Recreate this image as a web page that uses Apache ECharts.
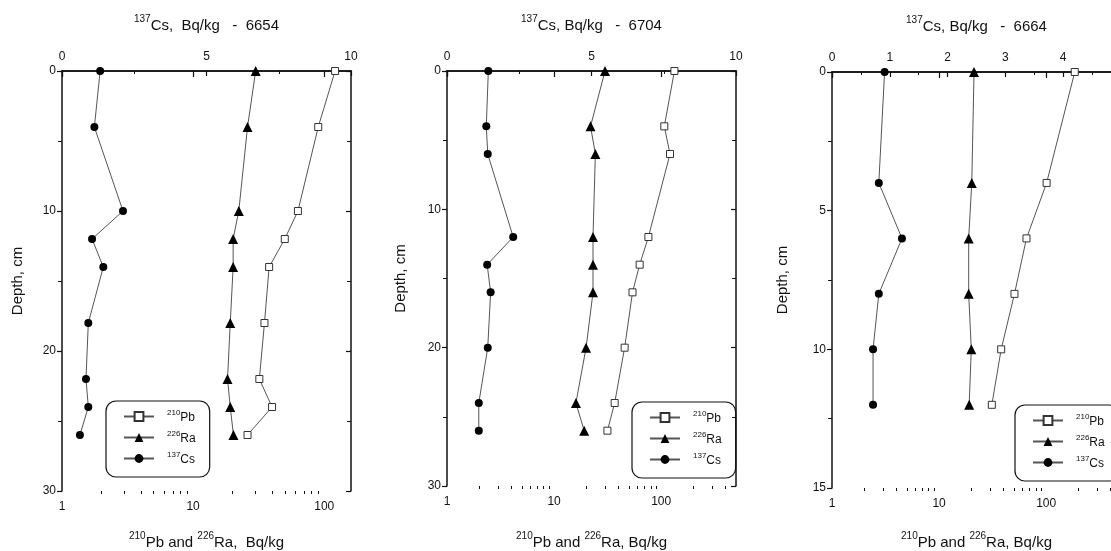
<!DOCTYPE html>
<html>
<head>
<meta charset="utf-8">
<script src="https://cdn.jsdelivr.net/npm/echarts@6/dist/echarts.min.js"></script>
<style>
  html, body { margin: 0; padding: 0; background: #fff; }
  #chart { width: 1111px; height: 551px; }
</style>
</head>
<body>
<div id="chart"></div>
<script>
// core 6654
const depth1 = [0, 4, 10, 12, 14, 18, 22, 24, 26];
const pb1 = [121, 90, 63, 50, 38, 35, 32, 40, 26];
const ra1 = [30, 26, 22.3, 20.2, 20.2, 19.2, 18.3, 19.2, 20.3];
const cs1 = [1.32, 1.12, 2.11, 1.04, 1.43, 0.91, 0.83, 0.91, 0.62];

// core 6704
const depth2 = [0, 4, 6, 12, 14, 16, 20, 24, 26];
const pb2 = [133, 107, 121, 76, 63, 54, 45.6, 36.8, 31.5];
const ra2 = [29.9, 21.9, 24.3, 23.1, 23.1, 23.1, 19.9, 16.0, 19.1];
const cs2 = [1.43, 1.36, 1.41, 2.29, 1.39, 1.51, 1.41, 1.10, 1.10];

// core 6664
const depth3 = [0, 4, 6, 8, 10, 12];
const pb3 = [185, 101, 65.5, 50.6, 38, 31.1];
const ra3 = [21.2, 20.2, 18.9, 18.9, 20.0, 19.1];
const cs3 = [0.91, 0.81, 1.21, 0.81, 0.71, 0.71];

const logMajor = [1, 10, 100];
const logMinor = [2, 3, 4, 5, 6, 7, 8, 9, 20, 30, 40, 50, 60, 70, 80, 90, 200, 300, 400];
const seriesNames = ["210Pb", "226Ra", "137Cs"];

const FONT = "Liberation Sans";
const INK = "#111";
const LINE = "#555";

const panels = [
  { left: 62, top: 71, height: 420, depthMax: 30, depthStep: 10, csMax: 10, csStep: 5, logMax: 160,
    depth: depth1, pb: pb1, ra: ra1, cs: cs1, legendLeft: 106, legendTop: 401, gapL: 37, gapB: 40,
    topName: "{s|137}{t|Cs,  Bq/kg   -  6654}", bottomName: "{s|210}{t|Pb and }{s|226}{t|Ra,  Bq/kg}" },
  { left: 447, top: 71, height: 415, depthMax: 30, depthStep: 10, csMax: 10, csStep: 5, logMax: 500,
    depth: depth2, pb: pb2, ra: ra2, cs: cs2, legendLeft: 632, legendTop: 402, gapL: 39, gapB: 45,
    topName: "{s|137}{t|Cs, Bq/kg   -  6704}", bottomName: "{s|210}{t|Pb and }{s|226}{t|Ra, Bq/kg}" },
  { left: 832, top: 72, height: 416, depthMax: 15, depthStep: 5, csMax: 5, csStep: 1, logMax: 500,
    depth: depth3, pb: pb3, ra: ra3, cs: cs3, legendLeft: 1015, legendTop: 405, gapL: 42, gapB: 43,
    topName: "{s|137}{t|Cs, Bq/kg   -  6664}", bottomName: "{s|210}{t|Pb and }{s|226}{t|Ra, Bq/kg}" },
];

const nameRich = {
  s: { fontSize: 10, fontFamily: FONT, color: INK, verticalAlign: "top", lineHeight: 19 },
  t: { fontSize: 15, fontFamily: FONT, color: INK, verticalAlign: "bottom", lineHeight: 19 },
};
const legendRich = {
  s: { fontSize: 8, fontFamily: FONT, color: INK, verticalAlign: "top", lineHeight: 15 },
  t: { fontSize: 12, fontFamily: FONT, color: INK, verticalAlign: "bottom", lineHeight: 15 },
};
const axisLine = { show: true, lineStyle: { color: INK, width: 1.5 } };
const labelStyle = { color: INK, fontFamily: FONT, fontSize: 12 };

const grid = [], xAxis = [], yAxis = [], series = [], legend = [];

panels.forEach((p, k) => {
  grid.push({ left: p.left, top: p.top, width: 289, height: p.height, outerBoundsMode: "none" });
  // bottom log axis (Pb, Ra) -> xAxis 2k
  xAxis.push({
    type: "log", logBase: 10, min: 1, max: p.logMax, gridIndex: k, position: "bottom",
    axisLine: axisLine, splitLine: { show: false },
    axisTick: { show: true, length: 6, customValues: logMajor, lineStyle: { color: INK, width: 1.2 } },
    axisLabel: { ...labelStyle, margin: 10, customValues: logMajor },
    name: p.bottomName, nameLocation: "middle", nameGap: p.gapB, nameTextStyle: { rich: nameRich },
  });
  // top linear axis (Cs) -> xAxis 2k+1
  xAxis.push({
    type: "value", min: 0, max: p.csMax, interval: p.csStep, gridIndex: k, position: "top",
    axisLine: axisLine, splitLine: { show: false },
    axisTick: { show: true, inside: true, length: 5, lineStyle: { color: INK, width: 1.2 } },
    minorTick: { show: true, splitNumber: 2, length: 3, lineStyle: { color: INK } },
    axisLabel: { ...labelStyle, margin: 8 },
    name: p.topName, nameLocation: "middle", nameGap: 38, nameTextStyle: { rich: nameRich },
  });
  yAxis.push({
    type: "value", inverse: true, min: 0, max: p.depthMax, interval: p.depthStep, gridIndex: k, position: "left",
    axisLine: axisLine, splitLine: { show: false },
    axisTick: { show: true, length: 5, lineStyle: { color: INK, width: 1.2 } },
    minorTick: { show: true, splitNumber: 2, length: 4, lineStyle: { color: INK } },
    axisLabel: { ...labelStyle, margin: 6 },
    name: "Depth, cm", nameLocation: "middle", nameRotate: 90, nameGap: p.gapL,
    nameTextStyle: { fontFamily: FONT, fontSize: 15, color: INK },
  });
  yAxis.push({
    type: "value", inverse: true, min: 0, max: p.depthMax, interval: p.depthStep, gridIndex: k, position: "right",
    axisLine: axisLine, splitLine: { show: false },
    axisTick: { show: true, inside: true, length: 5, lineStyle: { color: INK, width: 1.2 } },
    minorTick: { show: true, splitNumber: 2, length: 4, lineStyle: { color: INK } },
    axisLabel: { show: false },
  });

  const pairs = (vals) => vals.map((v, i) => [v, p.depth[i]]);
  const base = { type: "line", yAxisIndex: 2 * k, lineStyle: { color: LINE, width: 1 }, z: 3 };
  series.push({ ...base, name: seriesNames[0], xAxisIndex: 2 * k, data: pairs(p.pb),
    symbol: "rect", symbolSize: 7, itemStyle: { color: "#fff", borderColor: "#333", borderWidth: 1 } });
  series.push({ ...base, name: seriesNames[1], xAxisIndex: 2 * k, data: pairs(p.ra),
    symbol: "triangle", symbolSize: 10, itemStyle: { color: "#000", borderWidth: 0 } });
  series.push({ ...base, name: seriesNames[2], xAxisIndex: 2 * k + 1, data: pairs(p.cs),
    symbol: "circle", symbolSize: 8, itemStyle: { color: "#000", borderWidth: 0 } });

  legend.push({
    orient: "vertical", left: p.legendLeft, top: p.legendTop,
    data: seriesNames, selectedMode: false,
    itemWidth: 30, itemHeight: 11, itemGap: 6,
    padding: [8, 14, 11, 17],
    borderColor: INK, borderWidth: 1.2, borderRadius: 10,
    formatter: (n) => "{s|" + n.slice(0, 3) + "}{t|" + n.slice(3) + "}",
    textStyle: { rich: legendRich, padding: [0, 0, 0, 8] },
  });
});

// overlay grids that carry only the minor ticks of each log axis
panels.forEach((p, k) => {
  const g = panels.length + k;
  grid.push({ left: p.left, top: p.top, width: 289, height: p.height, outerBoundsMode: "none" });
  xAxis.push({
    type: "log", logBase: 10, min: 1, max: p.logMax, gridIndex: g, position: "bottom",
    axisLine: { show: false }, splitLine: { show: false },
    axisTick: { show: true, length: 3, customValues: logMinor.filter(v => v < p.logMax), lineStyle: { color: INK, width: 1 } },
    axisLabel: { show: false },
  });
  yAxis.push({ type: "value", min: 0, max: 1, gridIndex: g, show: false });
});

const chart = echarts.init(document.getElementById("chart"));
chart.setOption({
  animation: false,
  backgroundColor: "#fff",
  grid, xAxis, yAxis, series, legend,
});
</script>
</body>
</html>
